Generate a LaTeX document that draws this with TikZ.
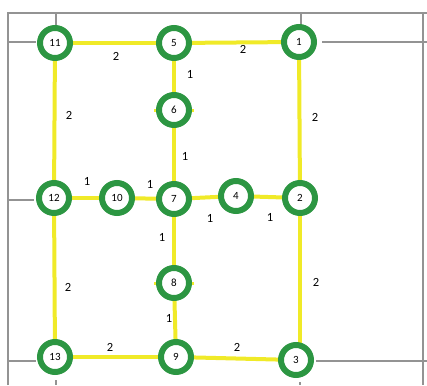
\documentclass[tikz,border=0pt]{standalone}
\usepackage{fontspec}
\setmainfont{Carlito}
\begin{document}
\begin{tikzpicture}[x=1pt,y=-1pt,
  grid/.style={draw=gray!85, line width=1.1pt},
  edge/.style={draw={rgb,255:red,240;green,234;blue,40}, line width=4pt},
  vtx/.style={circle, draw={rgb,255:red,44;green,150;blue,66}, line width=6pt, fill=white,
    minimum size=30pt, inner sep=0pt, font=\fontsize{11}{12}\selectfont},
  wlab/.style={font=\fontsize{12.5}{14}\selectfont, inner sep=1pt}]
\useasboundingbox (0,0) rectangle (427,385);
% grey frame and grid fragments
\coordinate (gTL) at (8,13);
\coordinate (gBL) at (8,385);
\coordinate (gTR) at (427,13);
\coordinate (rTop) at (423,13);
\coordinate (rBot) at (423,385);
\draw[grid] (gBL) -- (gTL) -- (gTR);
\draw[grid] (rTop) -- (rBot);
\draw[grid] (8,42) -- (36,42);
\draw[grid] (8,200) -- (34,200);
\draw[grid] (8,361) -- (36,361);
\draw[grid] (322,42) -- (427,42);
\draw[grid] (316,361) -- (427,361);
\draw[grid] (56,13) -- (56,25);
\draw[grid] (301,13) -- (301,25);
\draw[grid] (56,380) -- (56,385);
\draw[grid] (300,382) -- (300,385);
% nodes positions
\coordinate (p11) at (55,43);
\coordinate (p5) at (174,43);
\coordinate (p1) at (299,42);
\coordinate (p6) at (174,110);
\coordinate (p12) at (54,198);
\coordinate (p10) at (117,198);
\coordinate (p7) at (174,199);
\coordinate (p4) at (236,196);
\coordinate (p2) at (300,198);
\coordinate (p8) at (174,283);
\coordinate (p13) at (55,357);
\coordinate (p9) at (176,357);
\coordinate (p3) at (296,360);
\coordinate (p3top) at (300,345);
% edges
\draw[edge] (p11) -- (p5);
\draw[edge] (p5) -- (p1);
\draw[edge] (p5) -- (p6);
\draw[edge] (p6) -- (p7);
\draw[edge] (p11) -- (p12);
\draw[edge] (p1) -- (p2);
\draw[edge] (p12) -- (p10);
\draw[edge] (p10) -- (p7);
\draw[edge] (p7) -- (p4);
\draw[edge] (p4) -- (p2);
\draw[edge] (p7) -- (p8);
\draw[edge] (p8) -- (p9);
\draw[edge] (p12) -- (p13);
\draw[edge] (p13) -- (p9);
\draw[edge] (p9) -- (p3);
\draw[edge] (p2) -- (p3top);
% small stubs at 6 and 8
\draw[edge, line width=3pt] (154,110) -- (194,110);
\draw[edge, line width=3pt] (154,283) -- (194,283);
% vertices
\node[vtx] (n11) at (p11) {11};
\node[vtx] (n5) at (p5) {5};
\node[vtx] (n1) at (p1) {1};
\node[vtx] (n6) at (p6) {6};
\node[vtx] (n12) at (p12) {12};
\node[vtx] (n10) at (p10) {10};
\node[vtx] (n7) at (p7) {7};
\node[vtx] (n4) at (p4) {4};
\node[vtx] (n2) at (p2) {2};
\node[vtx] (n8) at (p8) {8};
\node[vtx] (n13) at (p13) {13};
\node[vtx] (n9) at (p9) {9};
\node[vtx] (n3) at (p3) {3};
% weights
\node[wlab] (w1) at (116,56) {2};
\node[wlab] (w2) at (243,49) {2};
\node[wlab] (w3) at (190,74) {1};
\node[wlab] (w4) at (185,156) {1};
\node[wlab] (w5) at (69,115) {2};
\node[wlab] (w6) at (315,117) {2};
\node[wlab] (w7) at (87,181) {1};
\node[wlab] (w8) at (150,184) {1};
\node[wlab] (w9) at (210,218) {1};
\node[wlab] (w10) at (270,217) {1};
\node[wlab] (w11) at (162,237) {1};
\node[wlab] (w12) at (169,318) {1};
\node[wlab] (w13) at (68,287) {2};
\node[wlab] (w14) at (110,347) {2};
\node[wlab] (w15) at (237,347) {2};
\node[wlab] (w16) at (316,282) {2};
\end{tikzpicture}
\end{document}
